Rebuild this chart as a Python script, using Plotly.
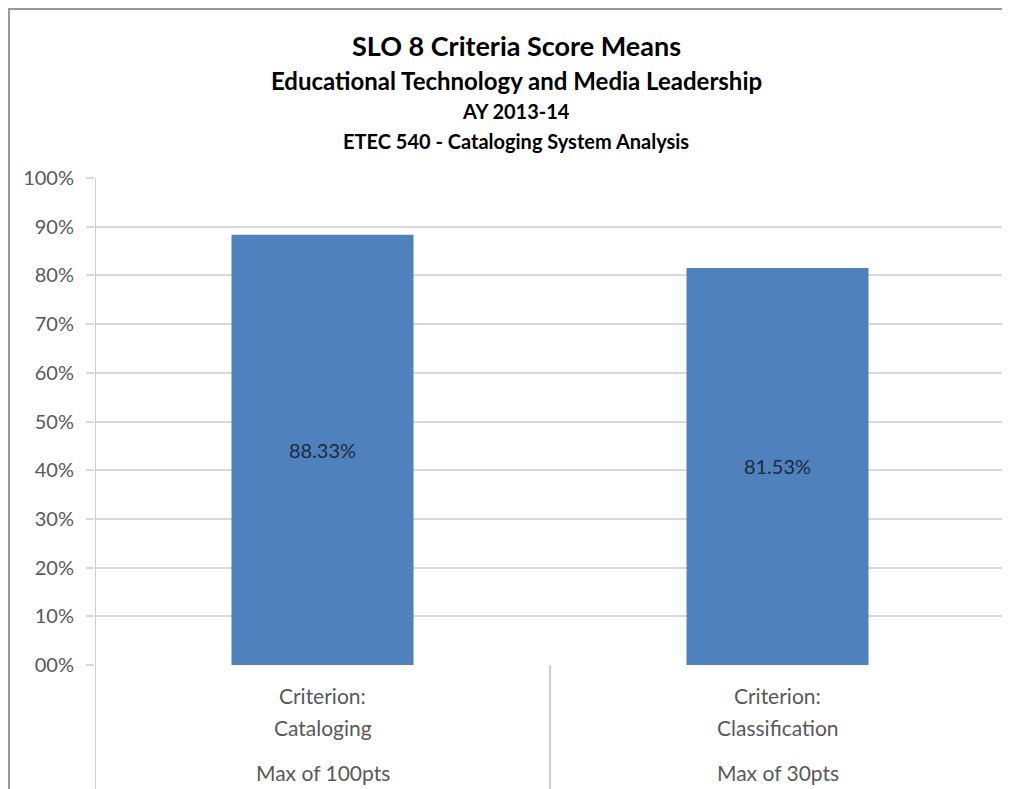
import plotly.graph_objects as go

# ---- data ----
categories = ["Criterion: Cataloging", "Criterion: Classification"]
criterion_line1 = ["Criterion:", "Criterion:"]
criterion_line2 = ["Cataloging", "Classification"]
max_labels = ["Max of 100pts", "Max of 30pts"]
score_means = [0.8833, 0.8153]
tick_values = [0, 0.1, 0.2, 0.3, 0.4, 0.5, 0.6, 0.7, 0.8, 0.9, 1.0]
tick_labels = ["00%", "10%", "20%", "30%", "40%", "50%", "60%", "70%", "80%", "90%", "100%"]
title_lines = [
    "SLO 8 Criteria Score Means",
    "Educational Technology and Media Leadership",
    "AY 2013-14",
    "ETEC 540 - Cataloging System Analysis",
]

OFF = 8  # page body margin
W, H = 1010 - OFF, 789 - OFF
# plot area in window pixels: x 95..1005, y 178..665
ML = 95 - OFF
MR = W - (1005 - OFF)
MT = 178 - OFF
MB = H - (665 - OFF)
PW, PH = W - ML - MR, H - MT - MB

def py(pix):
    """window pixel y -> paper y"""
    return (H - MB - (pix - OFF)) / PH

def px(pix):
    """window pixel x -> paper x"""
    return ((pix - OFF) - ML) / PW

FONT = "Lato, 'Open Sans', sans-serif"
GRID = "#D9D9D9"
AXIS = "#BFBFBF"
TXT = "#595959"

fig = go.Figure()
fig.add_trace(go.Bar(
    x=categories,
    y=score_means,
    width=0.4,
    marker=dict(color="#4F81BD", line=dict(width=0)),
    text=[f"{v*100:.2f}%" for v in score_means],
    textposition="inside",
    insidetextanchor="middle",
    textangle=0,
    textfont=dict(family=FONT, size=20, color="#1C2B3F"),
    hoverinfo="skip",
))

shapes = []
# category separators below the axis
for xv in [-0.5, 0.5, 1.5]:
    shapes.append(dict(type="line", xref="x", yref="paper", x0=xv, x1=xv,
                       y0=0, y1=py(800), line=dict(color=AXIS, width=1.5)))
# y axis line
shapes.append(dict(type="line", xref="x", yref="paper", x0=-0.5, x1=-0.5,
                   y0=0, y1=1, line=dict(color=AXIS, width=1.5)))
# chart area border (top and left)
shapes.append(dict(type="line", xref="paper", yref="paper", x0=px(8), x1=px(1015),
                   y0=py(9), y1=py(9), line=dict(color="#9A9A9A", width=2)))
shapes.append(dict(type="line", xref="paper", yref="paper", x0=px(9), x1=px(9),
                   y0=py(9), y1=py(800), line=dict(color="#9A9A9A", width=2)))

annotations = []
title_sizes = [27, 24, 20, 20]
title_ys = [45, 80, 111, 141]
for t, s, yy in zip(title_lines, title_sizes, title_ys):
    annotations.append(dict(text=f"<b>{t}</b>", xref="paper", yref="paper",
                            x=px(516), y=py(yy), xanchor="center", yanchor="middle",
                            showarrow=False, font=dict(family=FONT, size=s, color="#000000")))
for i, cat in enumerate(categories):
    for txt, yy in [(criterion_line1[i], 695), (criterion_line2[i], 727), (max_labels[i], 772)]:
        annotations.append(dict(text=txt, xref="x", yref="paper", x=cat, y=py(yy),
                                xanchor="center", yanchor="middle", showarrow=False,
                                font=dict(family=FONT, size=21, color=TXT)))

fig.update_layout(
    width=W, height=H,
    margin=dict(l=ML, r=MR, t=MT, b=MB, pad=0),
    paper_bgcolor="white", plot_bgcolor="white",
    showlegend=False,
    xaxis=dict(range=[-0.5, 1.5], showticklabels=False, showgrid=False, zeroline=False,
               showline=False, ticks="", fixedrange=True),
    yaxis=dict(range=[0, 1], tickvals=tick_values, ticktext=tick_labels,
               showgrid=True, gridcolor=GRID, gridwidth=1.5, zeroline=False,
               showline=False, ticks="outside", ticklen=8, tickcolor=GRID, tickwidth=1.5,
               tickfont=dict(family=FONT, size=20, color=TXT), ticklabelstandoff=8,
               fixedrange=True),
    shapes=shapes,
    annotations=annotations,
)

fig.write_html("out.html")
